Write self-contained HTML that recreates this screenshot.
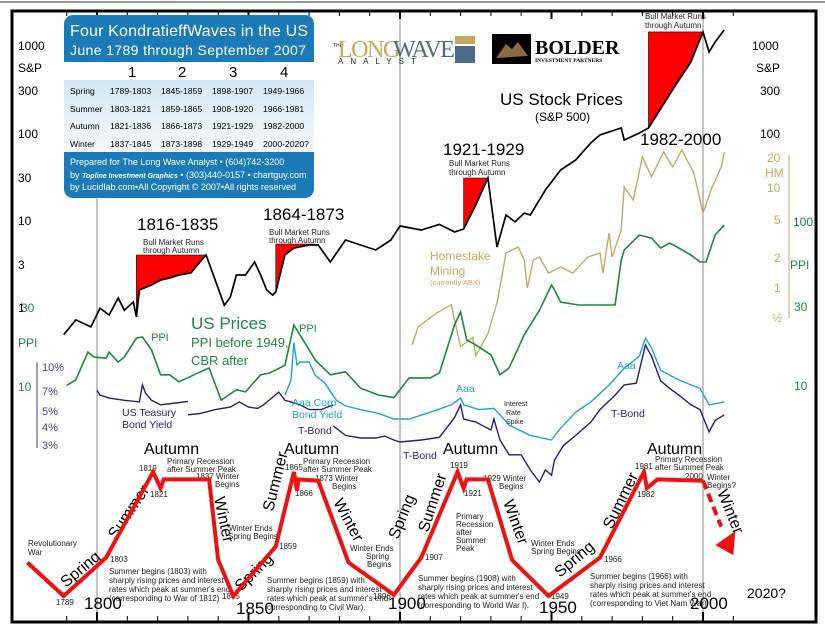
<!DOCTYPE html>
<html><head><meta charset="utf-8"><style>
html,body{margin:0;padding:0;background:#fff;}
svg{display:block;font-family:"Liberation Sans",sans-serif;}
.sm{font-size:8px;fill:#222;}
</style></head><body>
<svg id="c" width="825" height="635" viewBox="0 0 825 635" xmlns="http://www.w3.org/2000/svg">
<line x1="0" y1="2" x2="825" y2="2" stroke="#999" stroke-width="2"/>
<rect x="12" y="11" width="804" height="611" fill="#fff" stroke="#000" stroke-width="3"/>
<g id="grid"></g>
<g id="ticks"></g>
<g id="series"></g>

<g>
<rect x="64" y="15" width="250" height="183" rx="9" fill="#1a7bb8"/>
<rect x="64" y="62" width="250" height="90" fill="#fff"/>
<defs><linearGradient id="lg" x1="0" y1="0" x2="0" y2="1"><stop offset="0" stop-color="#d4e6f3"/><stop offset="1" stop-color="#f4f9fc"/></linearGradient></defs>
<rect x="64" y="80" width="250" height="72" fill="url(#lg)"/>
<text x="70" y="36" font-size="16" fill="#fff" textLength="238">Four KondratieffWaves in the US</text>
<text x="70" y="55" font-size="14" fill="#fff" textLength="236">June 1789 through September 2007</text>
<g font-size="15" fill="#000"><text x="128" y="77">1</text><text x="178" y="77">2</text><text x="229" y="77">3</text><text x="280" y="77">4</text></g>
<g font-size="8.6" fill="#000">
<text x="70" y="94">Spring</text><text x="110" y="94">1789-1803</text><text x="161" y="94">1845-1859</text><text x="212" y="94">1898-1907</text><text x="263" y="94">1949-1966</text>
<text x="70" y="112">Summer</text><text x="110" y="112">1803-1821</text><text x="161" y="112">1859-1865</text><text x="212" y="112">1908-1920</text><text x="263" y="112">1966-1981</text>
<text x="70" y="129">Autumn</text><text x="110" y="129">1821-1836</text><text x="161" y="129">1866-1873</text><text x="212" y="129">1921-1929</text><text x="263" y="129">1982-2000</text>
<text x="70" y="147">Winter</text><text x="110" y="147">1837-1845</text><text x="161" y="147">1873-1898</text><text x="212" y="147">1929-1949</text><text x="263" y="147">2000-2020?</text>
</g>
<g font-size="9" fill="#fff">
<text x="70" y="165">Prepared for The Long Wave Analyst • (604)742-3200</text>
<text x="70" y="178">by <tspan font-style="italic" font-weight="bold" font-size="7">Topline Investment Graphics</tspan> • (303)440-0157 • chartguy.com</text>
<text x="70" y="190">by Lucidlab.com•All Copyright © 2007•All rights reserved</text>
</g>
</g>

<g>
<text x="333" y="47" font-size="5" fill="#333">THE</text>
<text x="338" y="57" font-family="Liberation Serif" font-size="24" fill="#c5a860" letter-spacing="-1.5">LONG</text>
<text x="393" y="57" font-family="Liberation Serif" font-size="24" fill="#4d6b8f" letter-spacing="-1.5">WAVE</text>
<text x="338" y="64" font-size="8" fill="#222" letter-spacing="7">ANALYST</text>
<rect x="455" y="36" width="20" height="8" fill="#c5a860"/><rect x="455" y="46" width="20" height="17" fill="#4d6b8f"/>
</g>
<g>
<rect x="492" y="34" width="39" height="30" fill="#000"/>
<path d="M496 58 L506 44 L512 49 L518 42 L528 56 Z" fill="#8a6a40"/>
<text x="535" y="54" font-family="Liberation Serif" font-weight="bold" font-size="20" fill="#000">BOLDER</text>
<text x="535" y="62" font-family="Liberation Serif" font-weight="bold" font-size="5.5" fill="#000">INVESTMENT PARTNERS</text>
</g>

<g font-size="12" fill="#000">
<text x="18" y="50">1000</text><text x="18" y="72">S&amp;P</text><text x="18" y="95">300</text><text x="18" y="138">100</text><text x="18" y="182">30</text><text x="18" y="225">10</text><text x="18" y="269">3</text><text x="18" y="312">1</text>
</g>
<g font-size="12" fill="#1a8a3a"><text x="21" y="312">30</text><text x="18" y="347">PPI</text><text x="18" y="391">10</text></g>
<g font-size="11" fill="#4a3a9a">
<line x1="37" y1="362" x2="37" y2="448" stroke="#4a3a9a"/>
<text x="42" y="371">10%</text><text x="42" y="395">7%</text><text x="42" y="415">5%</text><text x="42" y="431">4%</text><text x="42" y="449">3%</text>
</g>
<g font-size="12" fill="#000">
<text x="752" y="50">1000</text><text x="756" y="72">S&amp;P</text><text x="760" y="95">300</text><text x="760" y="138">100</text>
</g>
<g font-size="12" fill="#c8a865">
<line x1="789" y1="155" x2="789" y2="318" stroke="#c8a865"/>
<text x="767" y="162">20</text><text x="765" y="177">HM</text><text x="767" y="192">10</text><text x="774" y="224">5</text><text x="774" y="262">2</text><text x="774" y="292">1</text><text x="772" y="322">½</text>
</g>
<g font-size="12" fill="#1a8a3a">
<text x="793" y="226">100</text><text x="790" y="269">PPI</text><text x="794" y="311">30</text><text x="794" y="390">10</text>
</g>

<g fill="#000">
<text x="500" y="105" font-size="17">US Stock Prices</text>
<text x="535" y="121" font-size="12">(S&amp;P 500)</text>
<text x="443" y="155" font-size="17">1921-1929</text>
<text x="640" y="145" font-size="17">1982-2000</text>
<text x="137" y="230" font-size="17">1816-1835</text>
<text x="263" y="220" font-size="17">1864-1873</text>
<text x="143" y="245" class="sm">Bull Market Runs</text><text x="143" y="253" class="sm">through Autumn</text>
<text x="269" y="235" class="sm">Bull Market Runs</text><text x="269" y="243" class="sm">through Autumn</text>
<text x="449" y="166" class="sm">Bull Market Runs</text><text x="449" y="175" class="sm">through Autumn</text>
<text x="645" y="19" class="sm">Bull Market Runs</text><text x="645" y="28" class="sm">through Autumn</text>
</g>
<g fill="#1a8a3a">
<text x="191" y="329" font-size="17">US Prices</text>
<text x="191" y="347" font-size="13">PPI before 1949,</text>
<text x="191" y="365" font-size="13">CBR after</text>
<text x="151" y="341" font-size="11">PPI</text><text x="299" y="332" font-size="11">PPI</text>
</g>
<g fill="#c8a865">
<text x="430" y="260" font-size="12">Homestake</text><text x="430" y="275" font-size="12">Mining</text><text x="430" y="285" font-size="7.5">(currently ABX)</text>
</g>
<g font-size="10.5">
<text x="292" y="406" fill="#1aa5cc">Aaa Corp</text><text x="292" y="418" fill="#1aa5cc">Bond Yield</text>
<text x="456" y="392" fill="#1aa5cc">Aaa</text><text x="617" y="369" fill="#1aa5cc">Aaa</text>
<text x="122" y="416" fill="#2a1a88">US Teasury</text><text x="122" y="428" fill="#2a1a88">Bond Yield</text>
<text x="298" y="434" fill="#2a1a88">T-Bond</text><text x="403" y="459" fill="#2a1a88">T-Bond</text><text x="611" y="417" fill="#2a1a88">T-Bond</text>
<text x="504" y="406" font-size="7" fill="#222">Interest</text><text x="506" y="415" font-size="7" fill="#222">Rate</text><text x="506" y="424" font-size="7" fill="#222">Spike</text>
</g>

<g font-size="16" fill="#000">
<text transform="translate(66,588) rotate(-40)">Spring</text>
<text transform="translate(116,540) rotate(-56)">Summer</text>
<text x="144" y="454">Autumn</text>
<text transform="translate(214,498) rotate(78)">Winter</text>
<text transform="translate(241,592) rotate(-45)">Spring</text>
<text transform="translate(273,512) rotate(-76)">Summer</text>
<text x="284" y="454">Autumn</text>
<text transform="translate(333,502) rotate(62)">Winter</text>
<text transform="translate(398,540) rotate(-68)">Spring</text>
<text transform="translate(428,533) rotate(-72)">Summer</text>
<text x="443" y="454">Autumn</text>
<text transform="translate(503,502) rotate(70)">Winter</text>
<text transform="translate(560,578) rotate(-40)">Spring</text>
<text transform="translate(612,530) rotate(-64)">Summer</text>
<text x="647" y="454">Autumn</text>
<text transform="translate(717,492) rotate(68)">Winter</text>
</g>
<g class="sm">
<text x="28" y="546" class="sm">Revolutionary</text><text x="28" y="555" class="sm">War</text>
<text x="56" y="605" class="sm">1789</text><text x="110" y="562" class="sm">1803</text>
<text x="109" y="574" class="sm">Summer begins (1803) with</text><text x="109" y="583" class="sm">sharply rising prices and interest</text><text x="109" y="592" class="sm">rates which peak at summer's end</text><text x="109" y="601" class="sm">(corresponding to War of 1812)</text>
<text x="139" y="471" class="sm">1819</text><text x="150" y="497" class="sm">1821</text>
<text x="167" y="464" class="sm">Primary Recession</text><text x="167" y="472" class="sm">after Summer Peak</text>
<text x="196" y="479" class="sm">1837 Winter</text><text x="215" y="487" class="sm">Begins</text>
<text x="229" y="531" class="sm">Winter Ends</text><text x="228" y="539" class="sm">Spring Begins</text>
<text x="222" y="599" class="sm">1845</text><text x="279" y="549" class="sm">1859</text>
<text x="267" y="583" class="sm">Summer begins (1859) with</text><text x="267" y="592" class="sm">sharply rising prices and interest</text><text x="267" y="601" class="sm">rates which peak at summer's end</text><text x="267" y="610" class="sm">corresponding to Civil War).</text>
<text x="285" y="470" class="sm">1865</text><text x="295" y="496" class="sm">1866</text>
<text x="303" y="464" class="sm">Primary Recession</text><text x="303" y="472" class="sm">after Summer Peak</text>
<text x="315" y="481" class="sm">1873 Winter</text><text x="332" y="489" class="sm">Begins</text>
<text x="350" y="551" class="sm">Winter Ends</text><text x="366" y="559" class="sm">Spring</text><text x="367" y="567" class="sm">Begins</text>
<text x="373" y="599" class="sm">1896</text><text x="425" y="560" class="sm">1907</text>
<text x="418" y="581" class="sm">Summer begins (1908) with</text><text x="418" y="590" class="sm">sharply rising prices and interest</text><text x="418" y="599" class="sm">rates which peak at summer's end</text><text x="418" y="608" class="sm">(corresponding to World War I).</text>
<text x="450" y="468" class="sm">1919</text><text x="464" y="496" class="sm">1921</text>
<text x="456" y="519" class="sm">Primary</text><text x="456" y="527" class="sm">Recession</text><text x="456" y="535" class="sm">after</text><text x="456" y="543" class="sm">Summer</text><text x="456" y="551" class="sm">Peak</text>
<text x="483" y="481" class="sm">1929 Winter</text><text x="499" y="489" class="sm">Begins</text>
<text x="531" y="546" class="sm">Winter Ends</text><text x="531" y="554" class="sm">Spring Begins</text>
<text x="551" y="599" class="sm">1949</text><text x="604" y="562" class="sm">1966</text>
<text x="590" y="579" class="sm">Summer begins (1966) with</text><text x="590" y="588" class="sm">sharply rising prices and interest</text><text x="590" y="597" class="sm">rates which peak at summer's end</text><text x="590" y="606" class="sm">(corresponding to Viet Nam War).</text>
<text x="635" y="469" class="sm">1981</text><text x="637" y="497" class="sm">1982</text>
<text x="655" y="462" class="sm">Primary Recession</text><text x="655" y="470" class="sm">after Summer Peak</text>
<text x="685" y="479" class="sm">2000</text><text x="707" y="480" class="sm">Winter</text><text x="707" y="488" class="sm">Begins?</text>
</g>
<g font-size="17" fill="#000">
<text x="84" y="609">1800</text><text x="236" y="614">1850</text><text x="388" y="609">1900</text><text x="539" y="613">1950</text><text x="690" y="609">2000</text><text x="747" y="598" font-size="14">2020?</text>
</g>
<g id="wave"></g>
</svg>
<script>
// ---------- data ----------
const spYears=[1789,1793,1798,1801,1804,1807,1809,1812,1813,1814,1818,1821,1824,1827,1831,1834,1836,1839,1842,1844,1846,1849,1852,1854,1856,1858,1859,1862,1865,1870,1873,1877,1882,1887,1892,1897,1900,1907,1913,1918,1921,1925,1929,1932,1935,1938,1941,1943,1948,1953,1958,1963,1966,1969,1973,1974,1979,1982,1991,1996,2000,2002,2004,2007];
const spValues=[0.48,0.71,0.59,0.97,0.81,1.27,0.92,1.14,0.77,1.57,1.79,2.04,2.15,2.33,2.46,3.29,3.96,2.04,1.05,1.30,2.33,2.33,3.29,2.33,1.57,1.37,1.49,3.96,4.76,5.16,5.16,3.29,5.89,5.16,4.52,5.89,8.53,7.67,8.9,7.3,7.88,14.9,30.4,4.90,11.4,9.5,12.0,11.4,22.1,37.6,49,77,95,103,114,83,100,114,357,655,1450,853,1110,1530];
const bullStart=[1813,1859,1921,1982];
const bullEnd=[1836,1872,1929,2000];
const bullTop=[3.96,5.3,30.4,1450];
const ppiYears=[1790,1793,1797,1799,1803,1804,1807,1809,1813,1815,1818,1821,1824,1827,1832,1837,1841,1846,1849,1854,1857,1862,1865,1869,1872,1877,1882,1887,1893,1898,1903,1907,1910,1913,1918,1920,1922,1925,1930,1933,1936,1941,1946,1950,1951,1953,1959,1966,1971,1973,1974,1979,1983,1986,1989,1992,1996,1999,2001,2004,2007];
const ppiValues=[10.1,10.9,16.1,15.0,14.8,16.1,14.0,15.0,19.6,19.9,16.6,11.7,11.7,10.6,11.7,12.9,8.2,9.5,9.2,11.7,12.0,13.4,23.5,17.8,14.4,11.7,12.2,9.7,8.8,8.5,11.2,11.2,11.2,12.0,23.5,28.3,19.1,17.8,15.5,11.7,12.9,20.5,29.0,41.3,38.5,32.5,31.2,31.2,31.2,58.6,67.4,83.3,79.8,69.4,74.5,69.4,62.9,57.0,57.0,83.3,95.8];
const hmYears=[1904,1906,1909,1912,1917,1918,1920,1924,1925,1929,1932,1934,1935,1939,1941,1942,1944,1946,1949,1953,1957,1962,1966,1967,1969,1970,1973,1974,1977,1980,1983,1987,1990,1993,1997,2000,2003,2006,2007];
const hmValues=[0.27,0.41,0.48,0.56,0.68,0.48,0.26,0.32,0.21,0.35,0.71,1.51,2.24,2.57,1.91,1.0,1.91,2.04,1.41,1.62,1.41,2.04,2.24,1.41,3.55,2.04,3.80,10.2,7.6,20.4,12.9,22.9,16.2,24.0,14.1,5.6,10.2,16.2,22.9];
const tbYears=[1800,1801,1804,1809,1814,1815,1816,1818,1821,1826,1830,null,1830,1834,1839,1844,1847,1850,1853,1855,1860,1862,1864,1867,1870,1874,1878,null,1878,1882,1887,1892,1895,1898,1900,1907,1913,1918,1920,1921,1925,1930,1931,1933,1936,1940,1943,1946,1948,1950,1951,1954,1958,1963,1966,1971,1974,1978,1981,1983,1986,1989,1992,1996,1999,2002,2004,2007];
const tbValues=[7.0,6.5,6.2,6.0,5.85,7.6,6.7,6.0,5.6,5.75,5.9,null,4.8,4.9,5.2,5.4,5.85,5.4,5.3,5.6,6.8,6.0,5.85,5.6,5.2,5.2,5.6,null,4.05,3.5,3.36,3.36,3.46,3.26,3.16,3.26,3.4,4.6,5.6,4.5,4.3,3.8,4.5,3.26,2.6,2.6,2.06,1.71,2.06,1.9,2.4,3.0,3.5,4.3,5.2,6.5,7.6,7.8,14.0,11.8,8.1,7.2,6.5,5.6,5.2,3.7,4.4,4.8];
const aaaYears=[1862,1864,1865,1866,1867,1870,1872,1875,1879,1882,1887,1893,1898,1903,1910,1917,1920,1921,1926,1931,1933,1936,1943,1950,1953,1958,1963,1969,1974,1979,1981,1983,1986,1991,1996,1999,2002,2007];
const aaaValues=[6.5,8.1,14.5,10.3,10.8,10.8,8.8,7.9,6.0,5.5,5.2,4.9,4.5,4.5,5.0,5.6,6.2,5.6,5.2,5.3,4.8,4.1,3.5,3.26,3.9,5.0,5.85,7.6,9.8,11.8,15.6,13.4,9.5,8.4,7.6,7.2,5.6,5.85];
const waveYears=[1777,1789,1803,1818.5,1821,1822,1837,1840,1845,1859,1865,1866,1866.5,1873,1883,1898,1907,1919,1921,1922,1929,1937,1949,1966,1980.5,1981.5,1985,2000];
const waveLevels=[27,0,31,100,87,94,94,29,0,40,100,85,94,93,27,1,31,100,87,94,94,29,0,31,100,87,94,93];
const forecastYears=[2000,2006,2010];
const forecastLevels=[93,56,33];
const gridYears=[1800,1900,2000];

// ---------- scales ----------
const NS='http://www.w3.org/2000/svg';
const xS=y=>97+(y-1800)*3.03;
const spY=v=>220-87*Math.log10(v/10);
const ppiY=v=>386-164*Math.log10(v/10);
const hmY=v=>188-100*Math.log10(v/10);
const yldY=v=>367+150*Math.log10(10/v);
const waveY=l=>596-l*1.24;
function mk(tag,attrs,parent){const e=document.createElementNS(NS,tag);for(const k in attrs)e.setAttribute(k,attrs[k]);parent.appendChild(e);return e;}
function pathD(xs,vs,ys){let d='',pen=false;for(let i=0;i<xs.length;i++){if(xs[i]===null||vs[i]===null){pen=false;continue;}d+=(pen?'L':'M')+xS(xs[i]).toFixed(1)+' '+ys(vs[i]).toFixed(1);pen=true;}return d;}

const grid=document.getElementById('grid');
gridYears.forEach(g=>{const l=mk('line',{x1:xS(g),x2:xS(g),y1:12,y2:621,stroke:'#888','stroke-width':1},grid);

});
const ticks=document.getElementById('ticks');
for(let yr=1790;yr<=2010;yr+=10){const big=yr%50===0;const x=xS(yr);
const t1=mk('line',{x1:x,x2:x,y1:12,y2:big?19:16,stroke:'#000','stroke-width':big?2:1},ticks);


const t2=mk('line',{x1:x,x2:x,y1:big?612:616,y2:621,stroke:'#000','stroke-width':big?2:1},ticks);

}

const S=document.getElementById('series');
for(let b=0;b<bullStart.length;b++){
 let pts=[[xS(bullStart[b]),spY(bullTop[b])],[xS(bullEnd[b]),spY(bullTop[b])]];
 for(let i=spYears.length-1;i>=0;i--){if(spYears[i]>=bullStart[b]&&spYears[i]<=bullEnd[b])pts.push([xS(spYears[i]),spY(Math.min(spValues[i],bullTop[b]))]);}
 const p=mk('polygon',{points:pts.map(q=>q.join(',')).join(' '),fill:'#ff0000',stroke:'#000','stroke-width':0.6},S);
 
 
}
const hm=mk('path',{d:pathD(hmYears,hmValues,hmY),fill:'none',stroke:'#c8a865','stroke-width':1.4},S);


const ppi=mk('path',{d:pathD(ppiYears,ppiValues,ppiY),fill:'none',stroke:'#1a8a3a','stroke-width':1.6},S);


const aaa=mk('path',{d:pathD(aaaYears,aaaValues,yldY),fill:'none',stroke:'#1aa5cc','stroke-width':1.4},S);


const tb=mk('path',{d:pathD(tbYears,tbValues,yldY),fill:'none',stroke:'#2a1a88','stroke-width':1.4},S);


const sp=mk('path',{d:pathD(spYears,spValues,spY),fill:'none',stroke:'#000','stroke-width':1.7},S);



const W=document.getElementById('wave');
const wl=mk('path',{d:pathD(waveYears,waveLevels,waveY),fill:'none',stroke:'#f01010','stroke-width':4,'stroke-linejoin':'miter'},W);


const n=forecastYears.length;
const fl=mk('path',{d:pathD(forecastYears.slice(0,n-1),forecastLevels.slice(0,n-1),waveY),fill:'none',stroke:'#f01010','stroke-width':4,'stroke-dasharray':'9 5'},W);


const tx=xS(forecastYears[n-1]),ty=waveY(forecastLevels[n-1]);
const ar=mk('polygon',{points:`${tx},${ty} ${tx-18},${ty-10} ${tx+2},${ty-24}`,fill:'#f01010'},W);


</script>
</body></html>
